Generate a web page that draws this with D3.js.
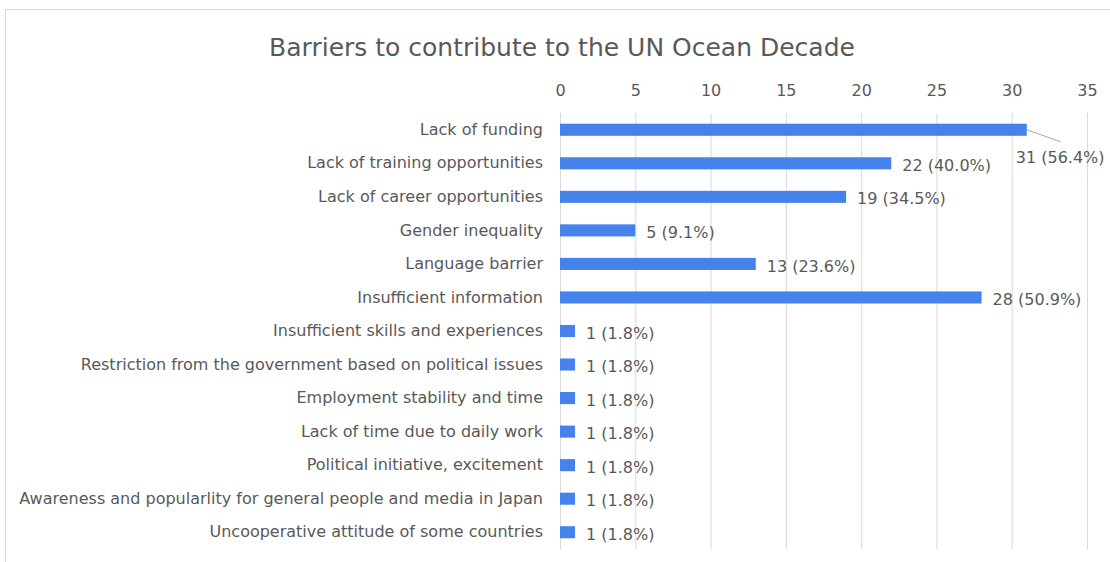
<!doctype html>
<html>
<head>
<meta charset="utf-8"/>
<script src="https://cdn.jsdelivr.net/npm/d3@7"></script>
<style>
  body { margin: 0; background: #fff; }
  text { font-family: "DejaVu Sans", sans-serif; fill: #595959; }
</style>
</head>
<body>
<script>
var width = 1110, height = 562;

// data
var categories = [
  "Lack of funding",
  "Lack of training opportunities",
  "Lack of career opportunities",
  "Gender inequality",
  "Language barrier",
  "Insufficient information",
  "Insufficient skills and experiences",
  "Restriction from the government based on political issues",
  "Employment stability and time",
  "Lack of time due to daily work",
  "Political initiative, excitement",
  "Awareness and popularlity for general people and media in Japan",
  "Uncooperative attitude of some countries"
];
var counts = [31, 22, 19, 5, 13, 28, 1, 1, 1, 1, 1, 1, 1];
var percents = ["56.4%", "40.0%", "34.5%", "9.1%", "23.6%", "50.9%", "1.8%", "1.8%", "1.8%", "1.8%", "1.8%", "1.8%", "1.8%"];
var tickValues = [0, 5, 10, 15, 20, 25, 30, 35];
var title = "Barriers to contribute to the UN Ocean Decade";

var svg = d3.select("body").append("svg").attr("width", width).attr("height", height);
svg.append("rect").attr("width", width).attr("height", height).attr("fill", "#fff");
// chart frame (right/bottom edges run off the picture)
svg.append("rect").attr("x", 5.5).attr("y", 9.5).attr("width", 1300).attr("height", 700)
  .attr("fill", "none").attr("stroke", "#d9d9d9");

var x = d3.scaleLinear().domain([0, 35]).range([560, 1087]);
var y = d3.scaleBand().domain(categories).range([113, 549]).paddingInner(0.64).paddingOuter(0.32);

svg.append("text").attr("x", 562).attr("y", 56).attr("text-anchor", "middle")
  .style("font-size", "25px").text(title);

// grid
svg.append("g").selectAll("line").data(tickValues).enter().append("line")
  .attr("x1", function(d){ return x(d) + 0.5; }).attr("x2", function(d){ return x(d) + 0.5; })
  .attr("y1", 113).attr("y2", 549).attr("stroke", "#d9d9d9");

var xAxis = svg.append("g").attr("transform", "translate(0,113)")
  .call(d3.axisTop(x).tickValues(tickValues).tickSize(0).tickPadding(17));
xAxis.select(".domain").remove();
xAxis.selectAll("text").style("font-size", "16px").style("font-family", null).attr("fill", "#595959");

var yAxis = svg.append("g").attr("transform", "translate(560,0)")
  .call(d3.axisLeft(y).tickSize(0).tickPadding(17));
yAxis.select(".domain").remove();
yAxis.selectAll("text").style("font-size", "16px").style("font-family", null).attr("fill", "#595959");

// bars
svg.append("g").selectAll("rect").data(counts).enter().append("rect")
  .attr("x", x(0))
  .attr("y", function(d, i){ return y(categories[i]); })
  .attr("width", function(d){ return x(d) - x(0); })
  .attr("height", y.bandwidth())
  .attr("fill", "#4682ec");

// value labels
svg.append("g").selectAll("text").data(counts).enter().append("text")
  .attr("x", function(d, i){ return i === 0 ? x(d) - 11 : x(d) + 11; })
  .attr("y", function(d, i){ return y(categories[i]) + y.bandwidth() / 2 + (i === 0 ? 28 : 2); })
  .attr("dy", "0.35em")
  .style("font-size", "16px")
  .text(function(d, i){ return d + " (" + percents[i] + ")"; });

// leader line for first label
svg.append("line")
  .attr("x1", x(counts[0])).attr("y1", y(categories[0]) + y.bandwidth() / 2)
  .attr("x2", x(counts[0]) + 34).attr("y2", y(categories[0]) + y.bandwidth() / 2 + 12)
  .attr("stroke", "#a6a6a6");
</script>
</body>
</html>
